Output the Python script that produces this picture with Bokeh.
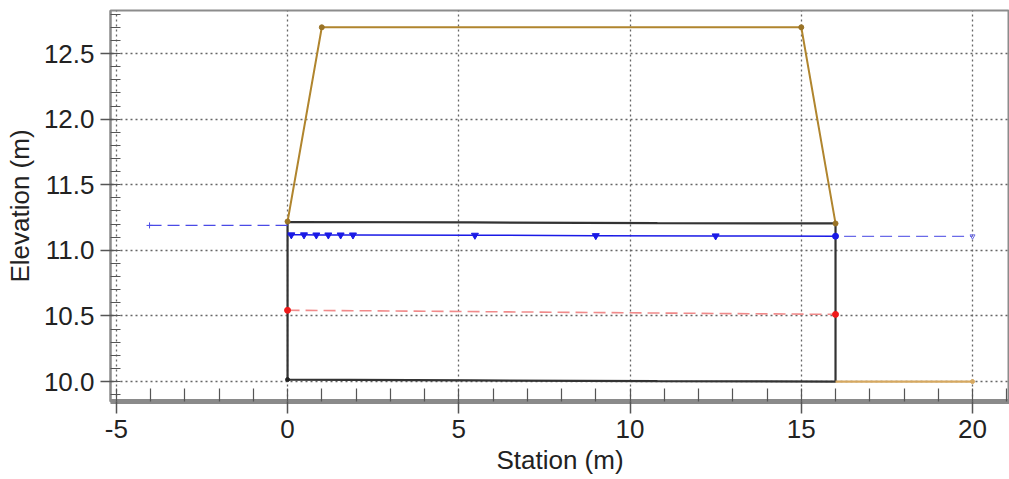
from bokeh.plotting import figure
from bokeh.models import Range1d, FixedTicker
from bokeh.embed import file_html
from bokeh.resources import INLINE

# ---- data ----
road_x = [0, 1, 15, 16]
road_y = [11.22, 12.70, 12.70, 11.205]

ground_ds_x = [16, 20]
ground_ds_y = [10.0, 10.0]

culvert_x = [0, 0, 5.4, 10.8, 16, 16, 10.8, 5.4, 0]
culvert_y = [10.015, 11.216, 11.213, 11.208, 11.205, 10.0, 10.003, 10.009, 10.015]

ws_x = [0, 0.11, 0.48, 0.84, 1.19, 1.55, 1.91, 5.47, 9.0, 12.5, 16.0]
ws_y = [11.118, 11.118, 11.118, 11.117, 11.117, 11.117, 11.117, 11.115, 11.112, 11.110, 11.108]
ws_marker_x = [0.11, 0.48, 0.84, 1.19, 1.55, 1.91, 5.47, 9.0, 12.5]
ws_marker_y = [11.118, 11.118, 11.117, 11.117, 11.117, 11.117, 11.115, 11.112, 11.110]

ws_us_x = [-4.03, 0]
ws_us_y = [11.19, 11.19]
ws_ds_x = [16.25, 20]
ws_ds_y = [11.107, 11.107]

egl_x = [0, 2.0, 16]
egl_y = [10.543, 10.540, 10.512]

x_ticks = [-5, 0, 5, 10, 15, 20]
x_tick_labels = ["-5", "0", "5", "10", "15", "20"]
x_minor = [-5, -4, -3, -2, -1, 0, 1, 2, 3, 4, 5, 6, 7, 8, 9, 10, 11, 12, 13, 14,
           15, 16, 17, 18, 19, 20, 21]
y_ticks = [10.0, 10.5, 11.0, 11.5, 12.0, 12.5]
y_tick_labels = ["10.0", "10.5", "11.0", "11.5", "12.0", "12.5"]
y_minor = [9.9, 10.0, 10.1, 10.2, 10.3, 10.4, 10.5, 10.6, 10.7, 10.8, 10.9, 11.0,
           11.1, 11.2, 11.3, 11.4, 11.5, 11.6, 11.7, 11.8, 11.9, 12.0, 12.1, 12.2,
           12.3, 12.4, 12.5, 12.6, 12.7, 12.8]

FONT = "Liberation Sans"

p = figure(width=1009, height=479, output_backend="svg", toolbar_location=None,
           x_range=Range1d(-5.17, 21.08), y_range=Range1d(9.848, 12.828),
           min_border_left=110, min_border_right=0, min_border_top=10,
           min_border_bottom=78)
p.background_fill_color = "white"
p.border_fill_color = "white"
p.outline_line_color = "#8c8c8c"
p.outline_line_width = 2

# axes
p.xaxis.ticker = FixedTicker(ticks=x_ticks, minor_ticks=x_minor)
p.yaxis.ticker = FixedTicker(ticks=y_ticks, minor_ticks=y_minor)
p.xaxis.major_label_overrides = {t: l for t, l in zip(x_ticks, x_tick_labels)}
p.yaxis.major_label_overrides = {t: l for t, l in zip(y_ticks, y_tick_labels)}

p.xaxis.axis_label = "Station (m)"
p.yaxis.axis_label = "Elevation (m)"
for ax in (p.xaxis, p.yaxis):
    ax.axis_label_text_font = FONT
    ax.axis_label_text_font_size = "26px"
    ax.axis_label_text_font_style = "normal"
    ax.axis_label_text_color = "#222222"
    ax.major_label_text_font = FONT
    ax.major_label_text_font_size = "26px"
    ax.major_label_text_color = "#222222"
    ax.major_tick_line_color = "#555555"
    ax.minor_tick_line_color = "#555555"
    ax.major_tick_line_width = 1.5
    ax.minor_tick_line_width = 1.2

p.xaxis.axis_line_color = "#8a8a8a"
p.xaxis.axis_line_width = 5
p.xaxis.major_tick_out = 12
p.xaxis.major_tick_in = 0
p.xaxis.minor_tick_in = 13
p.xaxis.minor_tick_out = 0
p.xaxis.major_label_standoff = 6
p.xaxis.axis_label_standoff = 4

p.yaxis.axis_line_color = "#8a8a8a"
p.yaxis.axis_line_width = 2
p.yaxis.major_tick_out = 10
p.yaxis.major_tick_in = 4
p.yaxis.minor_tick_in = 10
p.yaxis.minor_tick_out = 0
p.yaxis.major_label_standoff = 6
p.yaxis.axis_label_standoff = 6

for g in (p.xgrid, p.ygrid):
    g.grid_line_color = "#666666"
    g.grid_line_dash = "2 3"
    g.grid_line_width = 1.3

# glyphs (culvert first so the end markers sit on top of it)
p.line(culvert_x, culvert_y, line_color="#333333", line_width=2.2)
p.scatter([culvert_x[0]], [culvert_y[0]], size=4, color="#222222")

p.line(ws_us_x, ws_us_y, line_color="#4a4ae6", line_width=1.3, line_dash="12 6")
p.scatter([ws_us_x[0]], [ws_us_y[0]], marker="cross", size=6, line_color="#4a4ae6")
p.line(ws_ds_x, ws_ds_y, line_color="#6a6ae8", line_width=1.3, line_dash="12 6")
p.scatter([ws_ds_x[-1]], [ws_ds_y[-1]], marker="inverted_triangle", size=5,
          line_color="#6a6ae8", fill_color=None)

p.line(egl_x, egl_y, line_color="#f08a8a", line_width=1.6, line_dash="12 6")
p.scatter([egl_x[0], egl_x[-1]], [egl_y[0], egl_y[-1]], marker="circle", size=6,
          color="#f01a1a")

p.line(ws_x, ws_y, line_color="#1a1ae6", line_width=1.5)
p.scatter(ws_marker_x, ws_marker_y, marker="inverted_triangle", size=7,
          color="#1a1ae6")
p.scatter([ws_x[-1]], [ws_y[-1]], marker="circle", size=6, color="#1a1ae6")

p.line(ground_ds_x, ground_ds_y, line_color="#d6a860", line_width=2.2)
p.scatter([ground_ds_x[-1]], [ground_ds_y[-1]], size=4, color="#d6a860")
p.line(road_x, road_y, line_color="#b0852e", line_width=2)
p.scatter(road_x, road_y, size=5, color="#9a7326")

open("out.html", "w").write(file_html(p, INLINE))
